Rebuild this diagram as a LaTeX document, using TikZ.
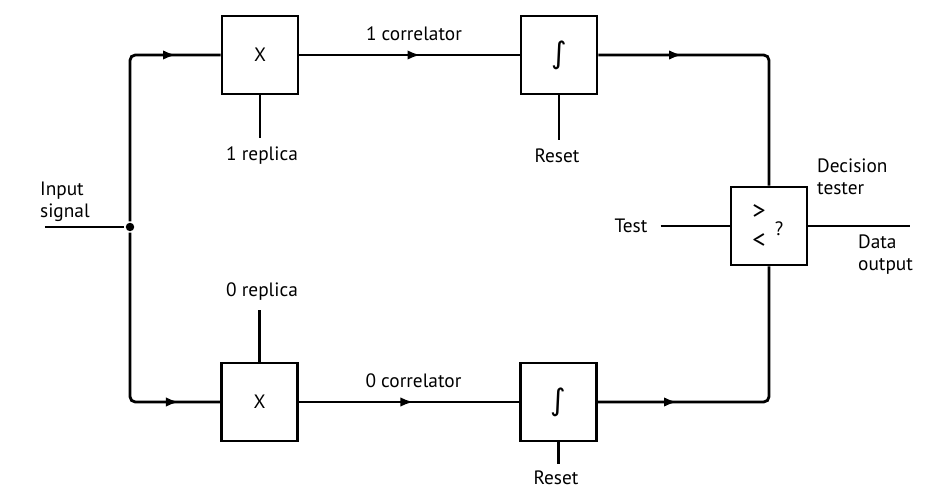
\documentclass[tikz,border=0pt]{standalone}
\usepackage{fontspec}
\setmainfont{PT Sans}
\newfontfamily\symfam{DejaVu Sans}
\usetikzlibrary{arrows.meta,calc,positioning,decorations.markings,shadows}

\begin{document}
\begin{tikzpicture}[font=\fontsize{11}{12.5}\selectfont, line width=1.6pt,
  unitbox/.style={draw, line width=1.6pt, fill=white, minimum width=1.52cm, minimum height=1.56cm,
    drop shadow={shadow xshift=0.8pt, shadow yshift=-0.8pt, opacity=1, fill=black}},
  midarrow/.style={postaction={decorate}, decoration={markings,
    mark=at position #1 with {\arrow{Latex[length=2.6mm,width=1.9mm]}}}},
  tag/.style={align=left, inner sep=1pt},
  intsign/.style={font=\symfam\fontsize{17}{17}\selectfont},
  cmpsign/.style={inner sep=0pt, align=center, font=\fontsize{15}{17}\selectfont}]
\useasboundingbox (0,0) rectangle (18.84,9.84);
\node[unitbox] (mul1) at (5.2,8.74)   {X};
\node[unitbox, intsign] (int1) at (11.18,8.74) {∫};
\node[unitbox] (mul0) at (5.19,1.8)   {X};
\node[unitbox, intsign] (int0) at (11.17,1.8)  {∫};
\node[unitbox] (dec)  at (15.38,5.32) {};
\node[cmpsign] (cmp) at ($(dec.center)+(-0.2,-0.01)$) {>\\<};
\node (qm) at ($(dec.center)+(0.2,-0.06)$)  {?};
\node[circle, fill, inner sep=1.7pt] (dot) at (2.6,5.3) {};
\coordinate (in)  at (0.9,5.3);
\coordinate (out) at (18.2,5.32);
\node[tag, anchor=north west] (inlab)  at (0.74,6.26)  {Input\\signal};
\node[tag, anchor=north west] (declab) at (16.28,6.72)  {Decision\\tester};
\node[tag, anchor=north west] (outlab) at (17.1,5.2)   {Data\\output};
\node[tag] (test)  at (12.62,5.32) {Test};
\node[tag] (rep1)  at (5.24,6.72)  {1 replica};
\node[tag] (rep0)  at (5.24,4.0)   {0 replica};
\node[tag] (rst1)  at (11.14,6.72) {Reset};
\node[tag] (rst0)  at (11.12,0.28) {Reset};
\draw (in) -- (dot);
\draw[midarrow=0.825, rounded corners=3pt] (dot) |- (mul1.west);
\draw[midarrow=0.84, rounded corners=3pt] (dot) |- (mul0.west);
\draw[midarrow=0.55] (mul1) -- node[above, pos=0.52, yshift=4pt] {1 correlator} (int1);
\draw[midarrow=0.52] (mul0) -- node[above, pos=0.52, yshift=4pt] {0 correlator} (int0);
\draw[midarrow=0.28, rounded corners=3pt] (int1.east) -| (dec.north);
\draw[midarrow=0.26, rounded corners=3pt] (int0.east) -| (dec.south);
\draw (mul1.south) -- ($(mul1.south |- rep1.north)+(0,0.12)$);
\draw (mul0.north) -- ($(mul0.north |- rep0.south)+(0,-0.12)$);
\draw (int1.south) -- ($(int1.south |- rst1.north)+(0,0.12)$);
\draw (int0.south) -- ($(int0.south |- rst0.north)+(0,0.08)$);
\draw ($(test.east)+(0.2,0)$) -- (dec.west);
\draw (dec.east) -- (out);
\end{tikzpicture}
\end{document}
